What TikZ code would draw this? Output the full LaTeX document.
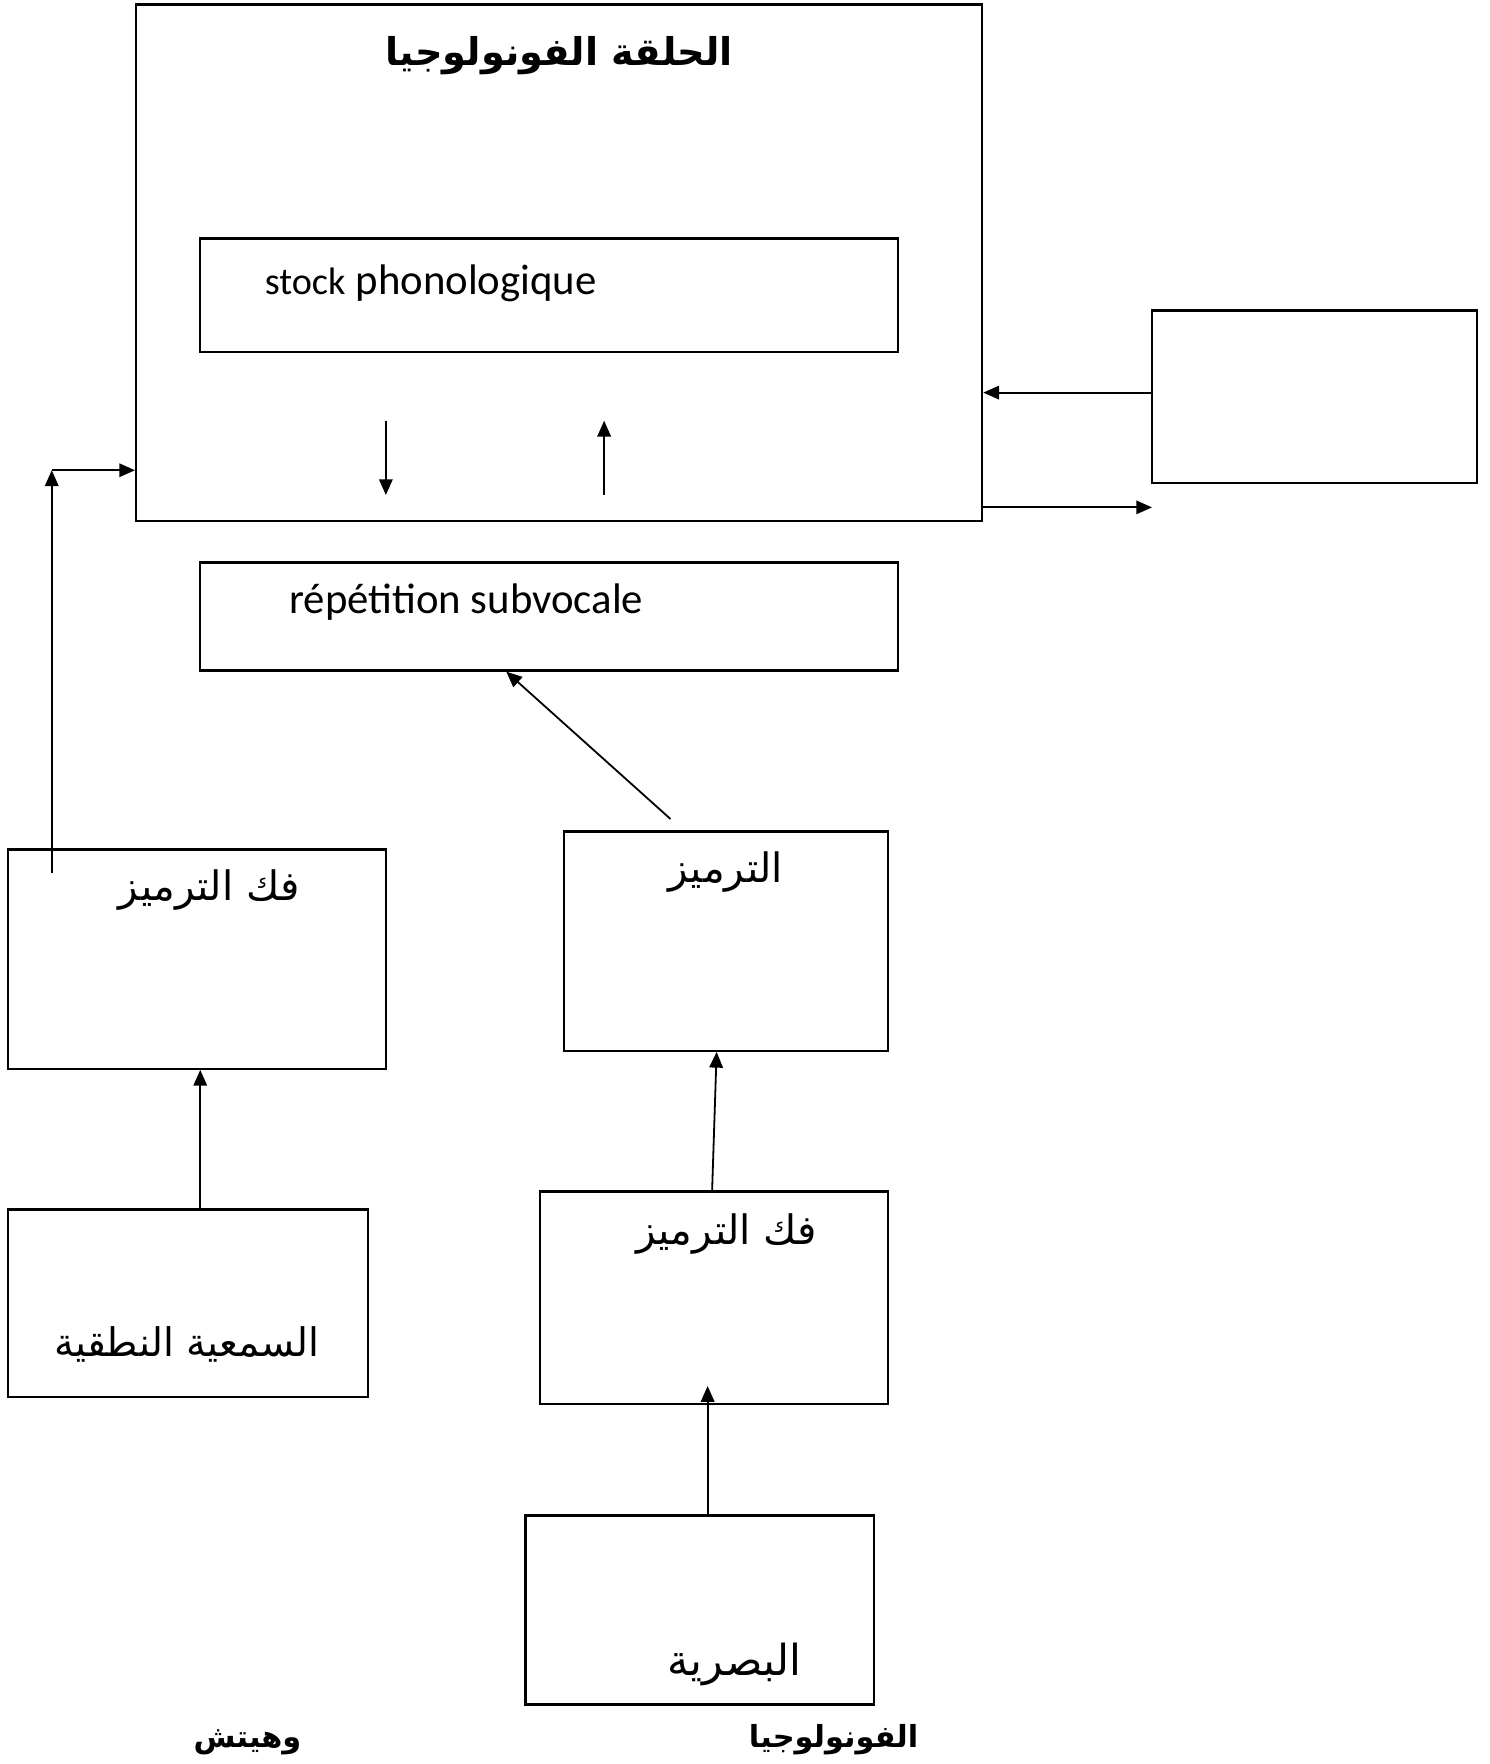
\documentclass[tikz,border=0pt]{standalone}
\usepackage{fontspec}
\usepackage{tikz}
\usetikzlibrary{arrows.meta,calc}
\setmainfont{Carlito}
\newfontfamily\arabicfont[Script=Arabic]{DejaVu Sans}
\TeXXeTstate=1
\def\ar#1{{\arabicfont\beginR #1\endR}}
\tikzset{
  box/.style={draw, line width=1pt, inner sep=0pt},
  arr/.style={-{Triangle[length=7pt,width=6pt]}, line width=0.8pt},
  artxt/.style={anchor=base, inner sep=0pt, font=\fontsize{18}{20}\selectfont},
  boldtxt/.style={anchor=base, inner sep=0pt, font=\fontsize{#1}{#1}\selectfont\bfseries}
}

\begin{document}
\begin{tikzpicture}[x=0.5pt, y=-0.5pt]
\useasboundingbox (0,0) rectangle (1324,1568);

\node[box, minimum width=376pt, minimum height=229.5pt] (loop) at (497,233.5) {};
\node[box, minimum width=310pt, minimum height=50.5pt] (stock) at (488,262.5) {};
\node[box, minimum width=144.5pt, minimum height=76.5pt] (right) at (1168.5,352.5) {};
\node[box, minimum width=310pt, minimum height=48pt] (rep) at (488,548) {};
\node[box, minimum width=168pt, minimum height=97.5pt] (decA) at (175,852.5) {};
\node[box, minimum width=160pt, minimum height=83.5pt] (aud) at (167,1158.5) {};
\node[box, minimum width=144pt, minimum height=97.5pt] (enc) at (645,836.5) {};
\node[box, minimum width=154.5pt, minimum height=94.5pt] (decB) at (634.5,1153.5) {};
\node[box, minimum width=155pt, minimum height=84pt] (vis) at (622,1431) {};

\node[boldtxt=17] (title) at (497,58) {\ar{الحلقة الفونولوجيا}};
\node[anchor=base west, inner sep=0pt] (stocktxt) at (235,262)
  {{\fontsize{17}{18}\selectfont stock}\hspace{4.5pt}{\fontsize{19}{20}\selectfont phonologique}};
\node[anchor=base west, inner sep=0pt, font=\fontsize{19}{20}\selectfont] (reptxt) at (257,545) {répétition subvocale};
\node[artxt] (decAtxt) at (186,800) {\ar{فك الترميز}};
\node[artxt] (enctxt) at (645,784) {\ar{الترميز}};
\node[artxt, font=\fontsize{17.5}{20}\selectfont] (audtxt) at (166,1206) {\ar{السمعية النطقية}};
\node[artxt] (decBtxt) at (646,1106) {\ar{فك الترميز}};
\node[artxt, font=\fontsize{19}{20}\selectfont] (vistxt) at (653,1489) {\ar{البصرية}};
\node[boldtxt=13.5] (note1) at (220,1553) {\ar{وهيتش}};
\node[boldtxt=13.5] (note2) at (741,1553) {\ar{الفونولوجيا}};

\coordinate (d1) at (343,374);
\coordinate (d2) at (343,440);
\coordinate (u1) at (537,440);
\coordinate (u2) at (537,374);
\coordinate (inR) at (1024,349);
\coordinate (outR) at (1024,451);
\coordinate (encOut) at (596,728);
\coordinate (repIn) at (450,597);
\coordinate (lA) at (46,776);
\coordinate (lB) at (46,418);
\coordinate (visIn) at (629,1232);

\draw[arr] (d1) -- (d2);
\draw[arr] (u1) -- (u2);
\draw[arr] (inR) -- (inR -| loop.east);
\draw[arr] (outR -| loop.east) -- (outR);
\draw[arr] (encOut) -- (repIn);
\draw[arr] (lA) -- (lB);
\draw[arr] (lB) -- (lB -| loop.west);
\draw[arr] ($(decA.south |- aud.north)+(3,0)$) -- ($(decA.south)+(3,0)$);
\draw[arr] ($(decB.north)+(-1.5,0)$) -- ($(enc.south)+(-8,0)$);
\draw[arr] (visIn |- vis.north) -- (visIn);
\end{tikzpicture}
\end{document}
